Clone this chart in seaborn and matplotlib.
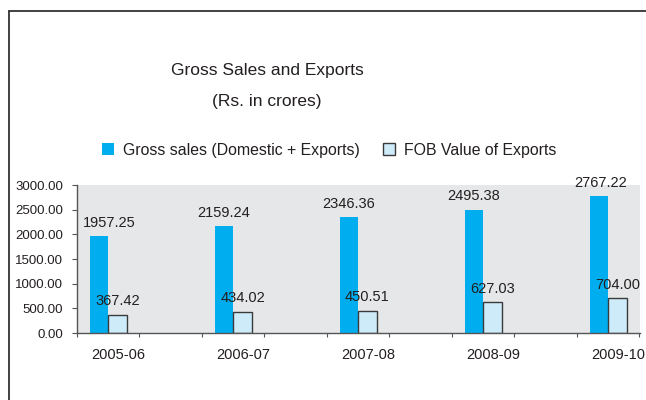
import matplotlib.pyplot as plt
import pandas as pd
import seaborn as sns
from matplotlib.lines import Line2D
from matplotlib.patches import Patch

# Data
years = ['2005-06', '2006-07', '2007-08', '2008-09', '2009-10']
gross_sales = [1957.25, 2159.24, 2346.36, 2495.38, 2767.22]
fob_exports = [367.42, 434.02, 450.51, 627.03, 704.00]
series_names = ['Gross sales (Domestic + Exports)', 'FOB Value of Exports']
y_ticks = [0, 500, 1000, 1500, 2000, 2500, 3000]

df = pd.DataFrame({
    'year': years * 2,
    'value': gross_sales + fob_exports,
    'series': [series_names[0]] * len(years) + [series_names[1]] * len(years),
})

sns.set_style('white')
plt.rcParams['font.family'] = ['Liberation Sans', 'DejaVu Sans']
text_color = '#231f20'
axis_color = '#555555'
gross_color = '#00aeef'
fob_color = '#cdebf9'
edge_color = '#3a3a3a'

fig = plt.figure(figsize=(6.46, 4.0), dpi=100)
ax = fig.add_axes([77 / 646, 67 / 400, 563 / 646, 148 / 400])

sns.barplot(data=df, x='year', y='value', hue='series', order=years,
            hue_order=series_names, palette=[gross_color, fob_color],
            width=0.296, saturation=1, errorbar=None, legend=False, ax=ax)

# Only the FOB bars carry an outline
for bar in ax.containers[0]:
    bar.set_linewidth(0)
for bar in ax.containers[1]:
    bar.set_edgecolor(edge_color)
    bar.set_linewidth(1.0)

# Value labels above bars (first gross label sits a bit to the right)
nudges = [[7, 0, 0, 0, 1], [0, 0, 0, 0, 0]]
for container, dx_list in zip(ax.containers, nudges):
    for bar, dx in zip(container, dx_list):
        h = bar.get_height()
        ax.annotate(f'{h:.2f}', (bar.get_x() + bar.get_width() / 2, h),
                    xytext=(dx, 6.8), textcoords='offset points',
                    ha='center', va='baseline', fontsize=10.5, color=text_color)

ax.set_facecolor('#e6e7e8')
ax.set_xlim(-0.252, 4.256)
ax.set_ylim(0, 3000)
ax.set_xlabel('')
ax.set_ylabel('')

ax.set_xticks([i + 0.08 for i in range(len(years))], labels=years)
ax.set_xticks([-0.252 + 0.5 * k for k in range(10)], minor=True)
ax.tick_params(axis='x', which='major', length=0, pad=11, labelsize=10.5,
               labelcolor=text_color)
ax.tick_params(axis='x', which='minor', length=3, width=0.8, color=axis_color,
               direction='out', bottom=True)

ax.set_yticks(y_ticks, labels=[f'{v:.2f}' for v in y_ticks])
ax.tick_params(axis='y', length=3.6, width=0.8, color=axis_color, pad=6.5,
               labelsize=9.5, labelcolor=text_color, left=True)

for side in ['top', 'right']:
    ax.spines[side].set_visible(False)
for side in ['left', 'bottom']:
    ax.spines[side].set_color(axis_color)
    ax.spines[side].set_linewidth(1.0)

# Titles
fig.text(267 / 646, 1 - 75.5 / 400, 'Gross Sales and Exports', ha='center',
         va='baseline', fontsize=12.5, color=text_color)
fig.text(267 / 646, 1 - 106 / 400, '(Rs. in crores)', ha='center',
         va='baseline', fontsize=12.5, color=text_color)

# Legend
handles = [Patch(facecolor=gross_color, edgecolor='none'),
           Patch(facecolor=fob_color, edgecolor=edge_color, linewidth=1.0)]
fig.legend(handles, series_names, loc='center left',
           bbox_to_anchor=(102 / 646, 1 - 150 / 400), ncol=2, frameon=False,
           fontsize=11.4, handlelength=0.76, handleheight=0.76,
           handletextpad=0.57, columnspacing=1.46, borderpad=0,
           borderaxespad=0, labelcolor=text_color)

# Outer frame (left and top edges visible in the reference)
fig.add_artist(Line2D([8.5 / 646, 8.5 / 646], [0, 1 - 11 / 400],
                      transform=fig.transFigure, color='#333333', lw=1.3))
fig.add_artist(Line2D([8.5 / 646, 1], [1 - 11 / 400, 1 - 11 / 400],
                      transform=fig.transFigure, color='#333333', lw=1.3))

fig.savefig('out.png', dpi=100, facecolor='white')
